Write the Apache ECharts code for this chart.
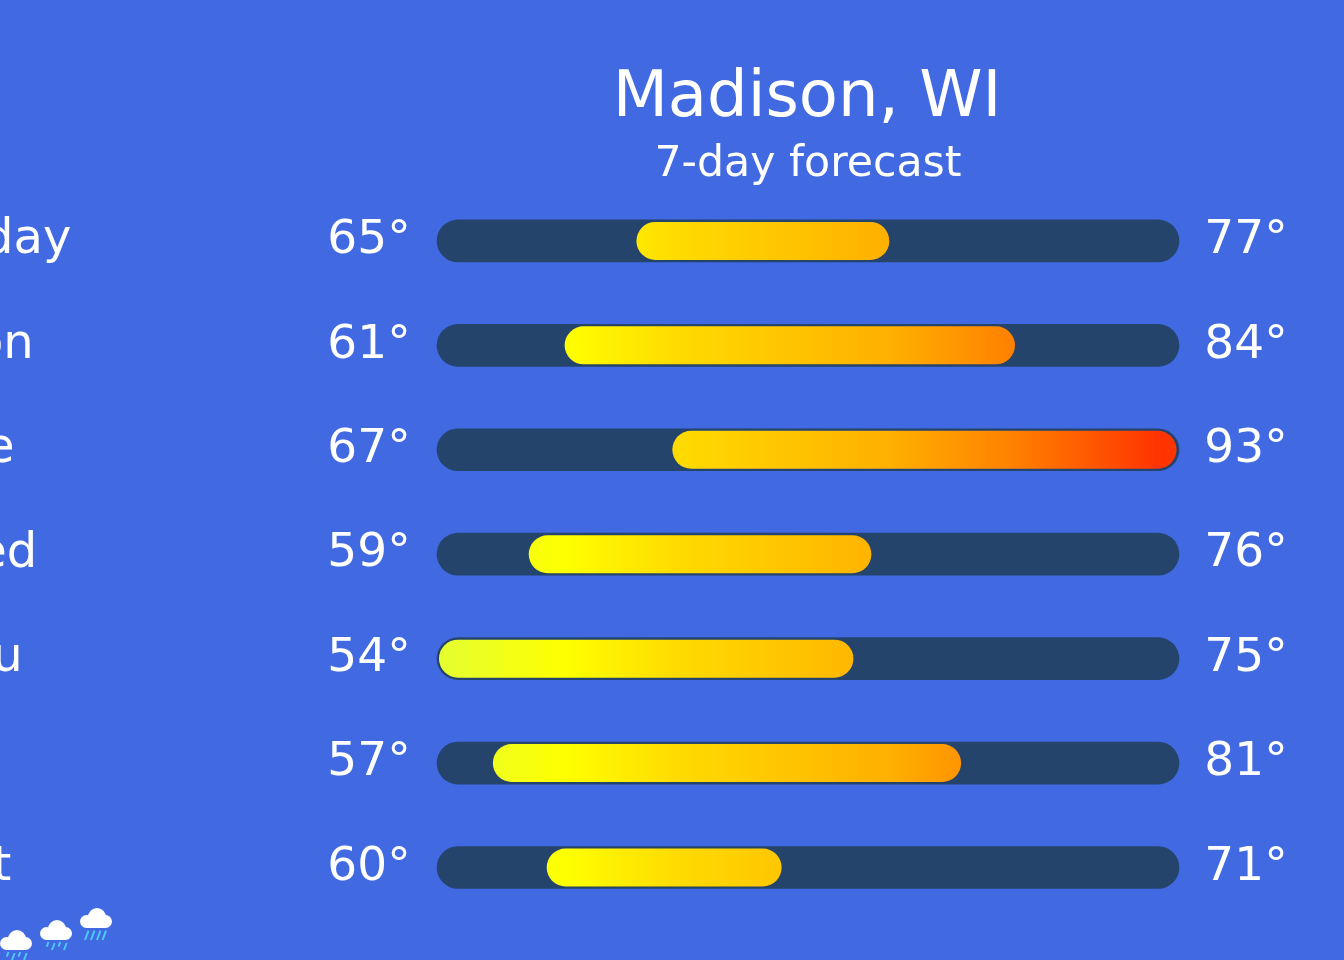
<!DOCTYPE html>
<html><head><meta charset="utf-8">
<style>html,body{margin:0;padding:0;background:#4169e1}#c{width:1344px;height:960px}</style>
<script src="https://cdn.jsdelivr.net/npm/echarts@6/dist/echarts.min.js"></script>
</head><body><div id="c"></div>
<script>
const days = ['Today','Mon','Tue','Wed','Thu','Fri','Sat'];
const lows = [65,61,67,59,54,57,60];
const highs = [77,84,93,76,75,81,71];
const colorTemps = [53,60,66,78,85,93];
const colorValues = ['#e4ff30','#ffff00','#ffdc00','#ffb000','#ff8000','#ff3400'];
const rainHours = [0,1,2];
const rainLevels = [0,1,2.2];
const FONT = '"DejaVu Sans"';
const chart = echarts.init(document.getElementById('c'), null, {renderer:'canvas', width:1344, height:960});
const T0 = colorTemps[0], T1 = colorTemps[colorTemps.length-1];
const stops = colorTemps.map((t,i)=>({offset:(t-T0)/(T1-T0), color:colorValues[i]}));
function rangeItem(params, api){
  const lo = api.value(0), hi = api.value(1), day = api.value(2);
  const a = api.coord([lo,day]), b = api.coord([hi,day]);
  const s = api.coord([Math.min(...lows),day])[0], e = api.coord([Math.max(...highs),day])[0];
  const g0 = api.coord([T0,day])[0], g1 = api.coord([T1,day])[0];
  const y = a[1];
  const grad = new echarts.graphic.LinearGradient(g0,0,g1,0,stops,true);
  return {type:'group',children:[
    {type:'line',shape:{x1:s,y1:y,x2:e,y2:y},style:{stroke:'#25446c',lineWidth:42.67,lineCap:'round'}},
    {type:'line',shape:{x1:a[0],y1:y,x2:b[0]-0.5,y2:y},style:{stroke:grad,lineWidth:38,lineCap:'round'}},
    {type:'text',x:s-89,y:y,style:{text:lo+'°',fill:'#fff',font:'47px '+FONT,align:'center',verticalAlign:'middle'}},
    {type:'text',x:e+88,y:y,style:{text:hi+'°',fill:'#fff',font:'47px '+FONT,align:'center',verticalAlign:'middle'}}
  ]};
}
function rainItem(params, api){
  const p = api.coord([api.value(0),api.value(1)]);
  const x = p[0]-16, y = p[1]-10;
  const heavy = params.dataIndex===2;
  const drops = heavy ? [[5,22.7,9.3],[11,22.7,9.3],[17,22.7,9.3],[22.5,22.7,9.3]]
                      : [[6.7,22,4.7],[12,23,7],[18.5,22,4.7],[24,23,7]];
  return {type:'group',x:x,y:y,children:[
    {type:'circle',shape:{cx:6.5,cy:13.5,r:6.5},style:{fill:'#fff'}},
    {type:'circle',shape:{cx:25.5,cy:13.5,r:6.5},style:{fill:'#fff'}},
    {type:'circle',shape:{cx:17,cy:9,r:9},style:{fill:'#fff'}},
    {type:'rect',shape:{x:6,y:10,width:20,height:10},style:{fill:'#fff'}},
    ...drops.map(d=>({type:'line',shape:{x1:d[0]+d[2]*0.38,y1:d[1],x2:d[0],y2:d[1]+d[2]},style:{stroke:'#4dc9f6',lineWidth:2}}))
  ]};
}
chart.setOption({
  animation:false,
  backgroundColor:'#4169e1',
  title:[
    {text:'Madison, WI',left:802,top:62,textAlign:'center',textStyle:{color:'#fff',fontFamily:FONT,fontWeight:'normal',fontSize:64}},
    {text:'7-day forecast',left:803,top:138,textAlign:'center',textStyle:{color:'#fff',fontFamily:FONT,fontWeight:'normal',fontSize:42.67}}
  ],
  grid:[
    {left:458,width:700,top:188.7,height:731,outerBoundsMode:'none'},
    {left:16,width:80,top:918,height:22,outerBoundsMode:'none'}
  ],
  xAxis:[
    {type:'value',gridIndex:0,min:54,max:93,show:false},
    {type:'value',gridIndex:1,min:0,max:2,show:false}
  ],
  yAxis:[
    {type:'category',gridIndex:0,data:days,inverse:true,
      axisLine:{show:false},axisTick:{show:false},splitLine:{show:false},
      axisLabel:{show:true,color:'#fff',fontFamily:FONT,fontSize:48,align:'left',margin:525.5,verticalAlign:'middle',lineHeight:48,padding:[0,0,1,0],hideOverlap:false}},
    {type:'value',gridIndex:1,min:0,max:2.2,show:false}
  ],
  series:[
    {type:'custom',xAxisIndex:0,yAxisIndex:0,coordinateSystem:'cartesian2d',renderItem:rangeItem,clip:false,
     encode:{x:[0,1],y:2},data:days.map((d,i)=>[lows[i],highs[i],i])},
    {type:'custom',xAxisIndex:1,yAxisIndex:1,coordinateSystem:'cartesian2d',renderItem:rainItem,clip:false,
     encode:{x:0,y:1},data:rainHours.map((h,i)=>[h,rainLevels[i]])}
  ]
});
</script></body></html>
